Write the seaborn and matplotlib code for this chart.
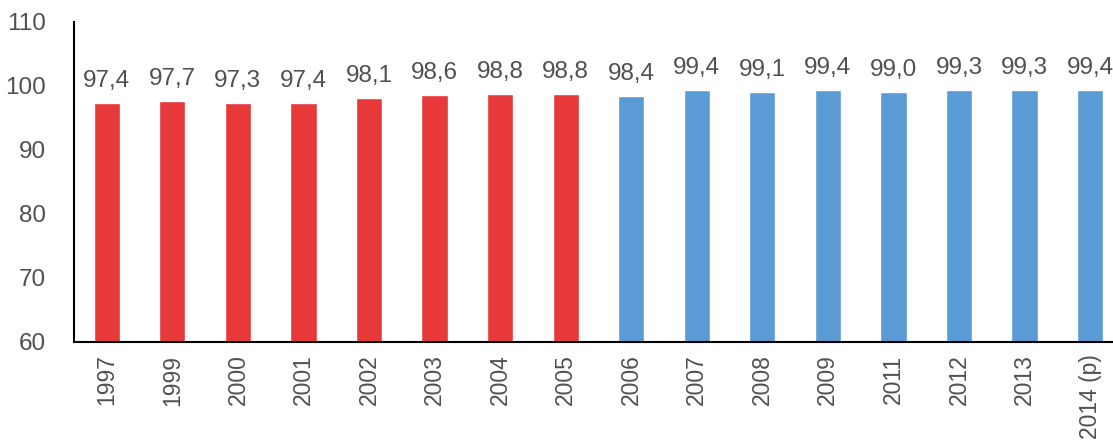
import numpy as np
import pandas as pd
import matplotlib
matplotlib.use('Agg')
import matplotlib.pyplot as plt
import seaborn as sns

years = ['1997', '1999', '2000', '2001', '2002', '2003', '2004', '2005',
         '2006', '2007', '2008', '2009', '2011', '2012', '2013', '2014 (p)']
values = [97.4, 97.7, 97.3, 97.4, 98.1, 98.6, 98.8, 98.8,
          98.4, 99.4, 99.1, 99.4, 99.0, 99.3, 99.3, 99.4]
period = ['old'] * 8 + ['new'] * 8

df = pd.DataFrame({'year': years, 'value': values, 'period': period})

sns.set_style('white')
plt.rcParams['font.family'] = ['Liberation Sans', 'DejaVu Sans']

palette = {'old': '#E8393A', 'new': '#5B9BD5'}
grey = '#505050'

fig = plt.figure(figsize=(11.13, 4.42), dpi=100)
ax = fig.add_axes([74 / 1113, 100 / 442, 1 - 74 / 1113, 320 / 442])

sns.barplot(data=df, x='year', y='value', hue='period', palette=palette,
            dodge=False, width=0.4, legend=False, ax=ax, saturation=1)

for c in ax.containers:
    ax.bar_label(c, labels=[f'{v:.1f}'.replace('.', ',') for v in c.datavalues],
                 padding=8, fontsize=17.5, color=grey)

ax.set_ylim(60, 110)
ax.set_yticks(np.arange(60, 111, 10))
ax.set_xlim(-0.5, 15.35)
ax.set_xlabel('')
ax.set_ylabel('')
ax.tick_params(axis='y', labelsize=17.5, colors=grey, length=0, pad=20)
ax.tick_params(axis='x', labelsize=16.5, colors=grey, length=0, rotation=90, pad=9)
for s in ['top', 'right']:
    ax.spines[s].set_visible(False)
for s in ['left', 'bottom']:
    ax.spines[s].set_color('black')
    ax.spines[s].set_linewidth(1.5)

fig.savefig('out.png', dpi=100)
